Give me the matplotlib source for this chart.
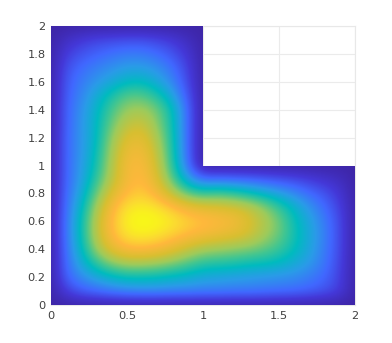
import numpy as np
import matplotlib
matplotlib.use('Agg')
import matplotlib.pyplot as plt
from matplotlib.colors import LinearSegmentedColormap
from matplotlib.patches import Polygon

# values, every 0.1 in x and y
z_low = np.array([
    [0] * 21,
    [0, .11, .18, .21, .24, .26, .27, .27, .26, .26, .25, .25, .24, .24, .23, .22, .21, .19, .16, .11, 0],
    [0, .19, .27, .33, .38, .41, .41, .40, .38, .36, .33, .32, .31, .30, .29, .28, .27, .24, .20, .12, 0],
    [0, .21, .34, .47, .57, .62, .62, .60, .56, .51, .46, .45, .44, .42, .41, .39, .35, .30, .23, .13, 0],
    [0, .22, .39, .60, .76, .84, .85, .82, .76, .68, .62, .60, .58, .56, .53, .48, .41, .33, .24, .14, 0],
    [0, .23, .41, .66, .85, .95, .97, .95, .90, .85, .81, .78, .75, .71, .62, .54, .43, .34, .25, .14, 0],
    [0, .23, .41, .66, .87, .98, 1.0, .99, .96, .91, .88, .85, .82, .74, .65, .55, .42, .33, .24, .14, 0],
    [0, .22, .38, .62, .83, .95, .97, .95, .88, .80, .76, .74, .72, .68, .59, .48, .38, .29, .21, .12, 0],
    [0, .21, .34, .54, .74, .86, .90, .82, .66, .52, .47, .50, .47, .42, .37, .32, .27, .21, .16, .09, 0],
    [0, .20, .31, .47, .66, .82, .86, .74, .52, .32, .22, .22, .21, .20, .18, .16, .14, .11, .08, .05, 0],
    [0, .20, .30, .43, .64, .82, .84, .70, .46, .22, 0, 0, 0, 0, 0, 0, 0, 0, 0, 0, 0],
])
z_up = np.array([
    [0, .20, .29, .41, .62, .79, .81, .67, .44, .20, 0],
    [0, .20, .29, .39, .59, .74, .76, .63, .43, .20, 0],
    [0, .19, .29, .39, .54, .67, .70, .58, .42, .20, 0],
    [0, .19, .28, .38, .50, .60, .62, .55, .41, .20, 0],
    [0, .18, .26, .35, .44, .52, .52, .45, .33, .17, 0],
    [0, .17, .24, .29, .34, .39, .40, .34, .26, .14, 0],
    [0, .15, .21, .25, .28, .31, .31, .28, .22, .12, 0],
    [0, .11, .16, .19, .22, .24, .24, .21, .16, .09, 0],
    [0, .06, .10, .13, .14, .15, .15, .13, .10, .05, 0],
    [0] * 11,
])
x_ticks = [0, .5, 1, 1.5, 2]
x_labels = ['0', '0.5', '1', '1.5', '2']
y_ticks = [0, .2, .4, .6, .8, 1, 1.2, 1.4, 1.6, 1.8, 2]
y_labels = ['0', '0.2', '0.4', '0.6', '0.8', '1', '1.2', '1.4', '1.6', '1.8', '2']

cmap_stops = [(0, '#3e26a8'), (.1, '#4438d8'), (.2, '#4068ff'), (.3, '#2a9be8'), (.4, '#00bbbf'),
              (.5, '#45c68f'), (.6, '#9ccb5c'), (.72, '#d8bf30'), (.85, '#ffb83c'), (.93, '#fbdc30'), (1, '#f8fd14')]
cmap = LinearSegmentedColormap.from_list('lshape', cmap_stops, N=512)

# the notch is filled with zeros, the clip below cuts it away
z = np.zeros((21, 21))
z[:11, :] = z_low
z[11:, :11] = z_up

fig = plt.figure(figsize=(3.92, 3.43), dpi=100)
ax = fig.add_axes([51 / 392, 1 - 305 / 343, 304 / 392, 279 / 343])
im = ax.imshow(z, origin='lower', extent=(-.05, 2.05, -.05, 2.05), aspect='auto', cmap=cmap,
               vmin=0, vmax=1, interpolation='bicubic', zorder=3)
clip = Polygon([(0, 0), (2, 0), (2, 1), (1, 1), (1, 2), (0, 2)], transform=ax.transData)
im.set_clip_path(clip)

ax.set_xlim(0, 2)
ax.set_ylim(0, 2)
ax.set_xticks(x_ticks, x_labels)
ax.set_yticks(y_ticks, y_labels)
ax.tick_params(length=0, labelsize=8.2, labelcolor='#404040', pad=4)
ax.grid(True, color='#ebebeb', linewidth=0.8)
ax.set_axisbelow(True)
for s in ax.spines.values():
    s.set_color('#e8e8e8')
    s.set_linewidth(0.8)

fig.savefig('out.png', dpi=100)
